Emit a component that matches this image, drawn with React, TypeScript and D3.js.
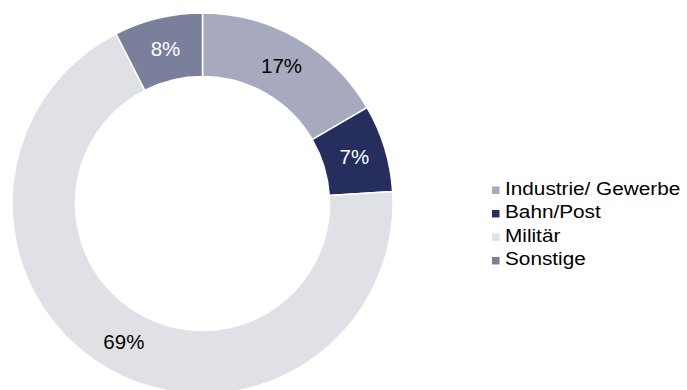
import React from "react";
import * as d3 from "d3";

const categories = ["Industrie/ Gewerbe", "Bahn/Post", "Militär", "Sonstige"];
const values = [16.6, 7.4, 68.5, 7.5];
const labels = ["17%", "7%", "69%", "8%"];
const colors = ["#A7AABE", "#252E5C", "#E0E1E7", "#7A7F9C"];
const labelColors = ["#000000", "#FFFFFF", "#000000", "#FFFFFF"];

const W = 687;
const H = 390;
const cx = 202.5;
const cy = 203.5;
const outerR = 190.5;
const innerR = 127;

export default function App() {
  const pie = d3.pie<number>().sort(null).value((d) => d);
  const arcs = pie(values);
  const arc = d3.arc<d3.PieArcDatum<number>>().innerRadius(innerR).outerRadius(outerR);

  const legendX = 492;
  const legendY0 = 194.7;
  const legendStep = 23.5;
  const sq = 7.5;

  return (
    <svg
      width={W}
      height={H}
      style={{ position: "absolute", left: 0, top: 0, background: "#fff" }}
      fontFamily="'Liberation Sans', Arial, sans-serif"
    >
      <g transform={`translate(${cx},${cy})`}>
        {arcs.map((a, i) => (
          <path key={i} d={arc(a) || ""} fill={colors[i]} stroke="#fff" strokeWidth={1.5} />
        ))}
        {arcs.map((a, i) => {
          const [x, y] = arc.centroid(a);
          return (
            <text
              key={"l" + i}
              x={x}
              y={y}
              dy="0.35em"
              textAnchor="middle"
              fontSize={20.5}
              fill={labelColors[i]}
            >
              {labels[i]}
            </text>
          );
        })}
      </g>
      <g>
        {categories.map((c, i) => {
          const by = legendY0 + i * legendStep;
          return (
            <g key={c}>
              <rect x={legendX} y={by - 4.5 - sq / 2} width={sq} height={sq} fill={colors[i]} />
              <text
                transform={`translate(${legendX + 13},${by}) scale(1.11,1)`}
                fontSize={18.7}
                fill="#000"
              >
                {c}
              </text>
            </g>
          );
        })}
      </g>
    </svg>
  );
}
